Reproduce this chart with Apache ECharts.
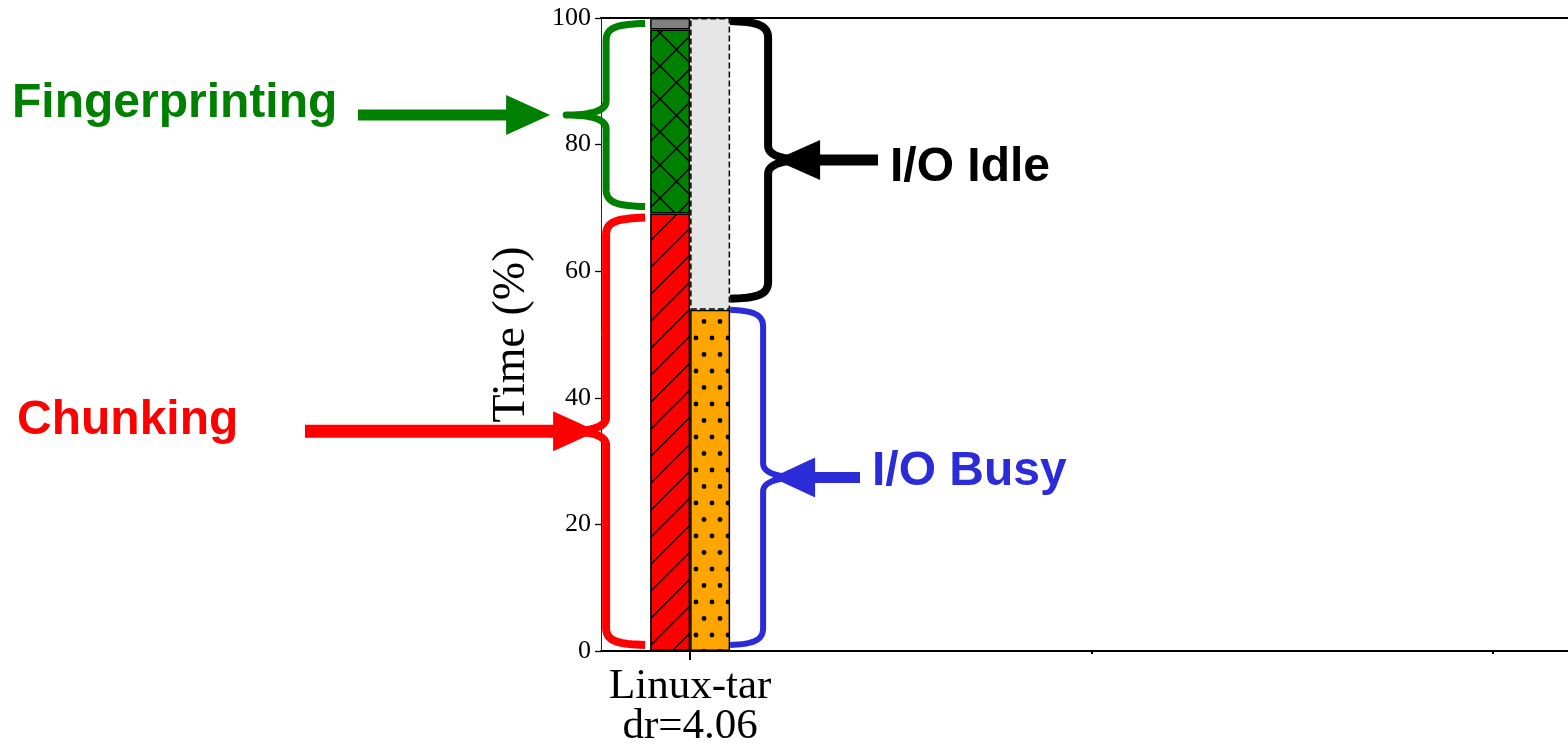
<!DOCTYPE html>
<html>
<head>
<meta charset="utf-8">
<title>Time breakdown</title>
<script src="https://cdn.jsdelivr.net/npm/echarts@6/dist/echarts.min.js"></script>
<style>
  html, body { margin: 0; padding: 0; background: #ffffff; }
  #chart { width: 1568px; height: 750px; }
</style>
</head>
<body>
<div id="chart"></div>
<script>
// ---- data (percent of total run time) ----
const categories = ['Linux-tar\ndr=4.06'];
const categoryPositions = [0];      // slot of the shown workload on the x axis
const emptySlots = [1, 2];          // remaining (unused) slots on the x axis
const chunking = [69.1];
const fingerprinting = [29.1];
const otherCpu = [1.8];
const ioBusy = [53.9];
const ioIdle = [46.1];
const yTicks = [0, 20, 40, 60, 80, 100];

const serif = '"Liberation Serif", "DejaVu Serif", serif';
const sans = '"Liberation Sans", Arial, sans-serif';

// ---- hatch tiles used as bar fills ----
function tile(w, h, bg, draw) {
  const c = document.createElement('canvas');
  c.width = w; c.height = h;
  const ctx = c.getContext('2d');
  ctx.fillStyle = bg; ctx.fillRect(0, 0, w, h);
  ctx.strokeStyle = '#000'; ctx.fillStyle = '#000'; ctx.lineWidth = 1.5;
  draw(ctx, w, h);
  return c;
}
const slashTile = tile(27, 27, '#ff0000', (ctx, w, h) => {
  ctx.beginPath();
  for (const k of [-1, 0, 1]) { ctx.moveTo(k * w, h); ctx.lineTo(k * w + w, 0); }
  ctx.stroke();
});
const crossTile = tile(33, 33, '#008000', (ctx, w, h) => {
  ctx.beginPath();
  for (const k of [-1, 0, 1]) {
    ctx.moveTo(k * w, h); ctx.lineTo(k * w + w, 0);
    ctx.moveTo(k * w, 0); ctx.lineTo(k * w + w, h);
  }
  ctx.stroke();
});
const dotTile = tile(16, 33, '#ffa500', (ctx) => {
  const dots = [[8, 8], [0, 24.5], [16, 24.5]];
  for (const [x, y] of dots) { ctx.beginPath(); ctx.arc(x, y, 2.4, 0, Math.PI * 2); ctx.fill(); }
});
const pattern = (img) => ({ image: img, repeat: 'repeat' });

// ---- chart ----
const xMin = -0.222, xMax = 2.187;
const barW = 40;
// rows are [value, slot]; encode maps column 1 to x so the stack runs along y
const rows = (vals) => categoryPositions.map((x, i) => [vals[i], x]);
const enc = { x: 1, y: 0 };
const edge = { borderColor: '#000', borderWidth: 1.5 };
const bar = (name, stack, vals, itemStyle) => ({
  name: name, type: 'bar', stack: stack, barWidth: barW, barGap: '0%',
  encode: enc, data: rows(vals), itemStyle: itemStyle
});

const chart = echarts.init(document.getElementById('chart'));
chart.setOption({
  animation: false,
  backgroundColor: '#ffffff',
  grid: { left: 601, right: 0, top: 18, bottom: 99, containLabel: false, outerBoundsMode: 'none' },
  xAxis: [
    {
      type: 'value', position: 'bottom', min: xMin, max: xMax,
      splitLine: { show: false },
      axisLine: { show: true, onZero: false, lineStyle: { color: '#000', width: 2 } },
      axisTick: { show: true, customValues: categoryPositions, length: 9, lineStyle: { color: '#000', width: 2 } },
      axisLabel: {
        show: true, customValues: categoryPositions,
        formatter: (v) => categories[categoryPositions.indexOf(v)] || '',
        fontFamily: serif, fontSize: 43, lineHeight: 40, color: '#000', margin: 16
      }
    },
    {
      type: 'value', position: 'bottom', min: xMin, max: xMax,
      splitLine: { show: false },
      axisLine: { show: false, onZero: false },
      axisTick: { show: true, customValues: emptySlots, length: 3, lineStyle: { color: '#000', width: 2 } },
      axisLabel: { show: false }
    },
    {
      type: 'value', position: 'top', min: xMin, max: xMax,
      splitLine: { show: false },
      axisLine: { show: true, onZero: false, lineStyle: { color: '#000', width: 2.2 } },
      axisTick: { show: false },
      axisLabel: { show: false }
    }
  ],
  yAxis: {
    type: 'value', min: yTicks[0], max: yTicks[yTicks.length - 1], interval: 20,
    name: 'Time (%)', nameLocation: 'middle', nameGap: 66,
    nameTextStyle: { fontFamily: serif, fontSize: 46, color: '#000' },
    splitLine: { show: false },
    axisLine: { show: true, onZero: false, lineStyle: { color: '#222', width: 1 } },
    axisTick: { show: true, length: 6, lineStyle: { color: '#000', width: 1.3 } },
    axisLabel: { fontFamily: serif, fontSize: 26, color: '#000', margin: 10 }
  },
  series: [
    bar('Chunking', 'cpu', chunking, Object.assign({ color: pattern(slashTile) }, edge)),
    bar('Fingerprinting', 'cpu', fingerprinting, Object.assign({ color: pattern(crossTile) }, edge)),
    bar('Other', 'cpu', otherCpu, Object.assign({ color: '#808080' }, edge)),
    bar('I/O Busy', 'io', ioBusy, Object.assign({ color: pattern(dotTile) }, edge)),
    bar('I/O Idle', 'io', ioIdle, { color: '#e6e6e6', borderColor: '#000', borderWidth: 1.5, borderType: [6, 3] })
  ]
});

// ---- braces, arrows and labels, placed from the bar geometry ----
const px = (x, y) => chart.convertToPixel({ xAxisIndex: 0, yAxisIndex: 0 }, [x, y]);
const cx = px(categoryPositions[0], 0)[0];
const py = (v) => px(categoryPositions[0], v)[1];

const chunkTop = chunking[0];
const fpTop = chunking[0] + fingerprinting[0];
const busyTop = ioBusy[0];

function cubic(out, p0, p1, p2, p3, n) {
  for (let i = 1; i <= n; i++) {
    const t = i / n, u = 1 - t;
    out.push([
      u * u * u * p0[0] + 3 * u * u * t * p1[0] + 3 * u * t * t * p2[0] + t * t * t * p3[0],
      u * u * u * p0[1] + 3 * u * u * t * p1[1] + 3 * u * t * t * p2[1] + t * t * t * p3[1]
    ]);
  }
}
function quad(out, p0, p1, p2, n) {
  for (let i = 1; i <= n; i++) {
    const t = i / n, u = 1 - t;
    out.push([u * u * p0[0] + 2 * u * t * p1[0] + t * t * p2[0],
              u * u * p0[1] + 2 * u * t * p1[1] + t * t * p2[1]]);
  }
}
// curly brace: arms end at xArm, spine at xV, middle point at xTip
function bracePoints(xArm, xV, xTip, yTop, yBot) {
  const s = Math.sign(xArm - xV);
  const yMid = (yTop + yBot) / 2;
  const r = 13, ch = 14;
  const pts = [[xArm, yTop]];
  cubic(pts, [xArm, yTop], [xV + s * r, yTop + 1], [xV, yTop + 3], [xV, yTop + r + 4], 16);
  pts.push([xV, yMid - ch]);
  quad(pts, [xV, yMid - ch], [xV, yMid], [xTip, yMid], 16);
  quad(pts, [xTip, yMid], [xV, yMid], [xV, yMid + ch], 16);
  pts.push([xV, yBot - r - 4]);
  cubic(pts, [xV, yBot - r - 4], [xV, yBot - 3], [xV + s * r, yBot - 1], [xArm, yBot], 16);
  return pts;
}
function brace(color, width, xArm, xV, xTip, yTop, yBot) {
  return {
    type: 'polyline', z: 100,
    shape: { points: bracePoints(xArm, xV, xTip, yTop, yBot) },
    style: { fill: null, stroke: color, lineWidth: width, lineJoin: 'round', lineCap: 'butt' }
  };
}
function arrow(color, tipX, y, tailX, shaft, headLen, headW) {
  const d = Math.sign(tailX - tipX);
  const bx = tipX + d * headLen;
  return {
    type: 'polygon', z: 101,
    shape: { points: [[tailX, y - shaft / 2], [bx, y - shaft / 2], [bx, y - headW / 2], [tipX, y],
                      [bx, y + headW / 2], [bx, y + shaft / 2], [tailX, y + shaft / 2]] },
    style: { fill: color }
  };
}
function label(text, color, x, y) {
  return {
    type: 'text', z: 102, x: x, y: y,
    style: { text: text, fill: color, font: 'bold 48px ' + sans,
             align: 'left', verticalAlign: 'middle', textAlign: 'left', textVerticalAlign: 'middle' }
  };
}

const GREEN = '#008000', RED = '#ff0000', BLACK = '#000000', BLUE = '#2b2bd8';
const leftArm = cx - barW - 5, leftV = cx - barW - 44, leftTip = leftV - 40;
const rightArm = cx + barW, idleV = cx + barW + 38, busyV = cx + barW + 33;

const g = { top: py(fpTop) - 6, bot: py(chunkTop) - 7 };
const r = { top: py(chunkTop) + 4, bot: py(0) - 6 };
const k = { top: py(100) + 3, bot: py(busyTop) - 11 };
const b = { top: py(busyTop), bot: py(0) - 6 };
const mid = (o) => (o.top + o.bot) / 2;

chart.setOption({
  graphic: [
    brace(GREEN, 7, leftArm, leftV, leftTip, g.top, g.bot),
    brace(RED, 8, leftArm, leftV, leftTip, r.top, r.bot),
    brace(BLACK, 8, rightArm, idleV, idleV + 40, k.top, k.bot),
    brace(BLUE, 6, rightArm, busyV, busyV + 40, b.top, b.bot),
    arrow(GREEN, leftTip - 16, mid(g), 358, 11, 44, 40),
    arrow(RED, leftV - 9, mid(r), 305, 13, 44, 40),
    arrow(BLACK, idleV + 7, mid(k), 878, 11, 45, 40),
    arrow(BLUE, busyV + 9, mid(b), 860, 11, 43, 40),
    label('Fingerprinting', GREEN, 12, 104),
    label('Chunking', RED, 17, 421),
    label('I/O Idle', BLACK, 890, 168),
    label('I/O Busy', BLUE, 872, 472)
  ]
});
</script>
</body>
</html>
